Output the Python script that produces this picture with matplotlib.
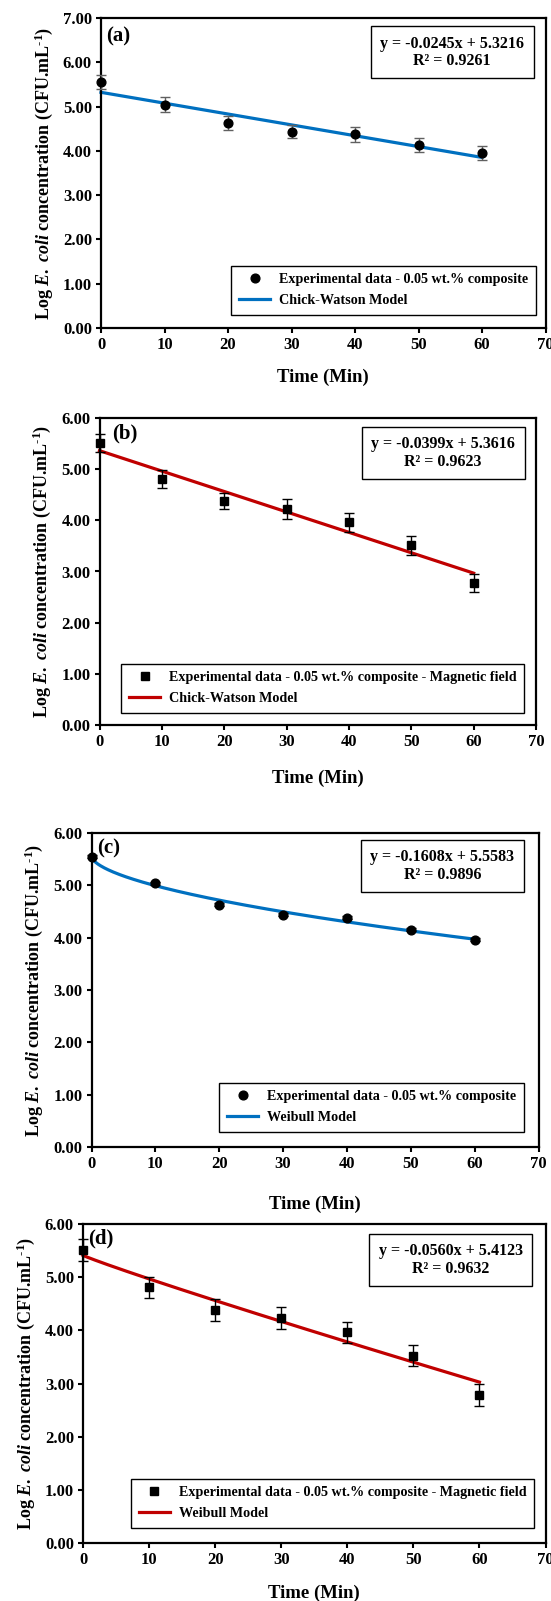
import numpy as np
import matplotlib
matplotlib.use("Agg")
import matplotlib.pyplot as plt
from matplotlib.lines import Line2D

plt.rcParams['font.family'] = ['Liberation Serif', 'DejaVu Serif']
plt.rcParams['font.weight'] = 'bold'
plt.rcParams['mathtext.fontset'] = 'custom'
plt.rcParams['mathtext.rm'] = 'Liberation Serif:bold'
plt.rcParams['mathtext.it'] = 'Liberation Serif:bold:italic'
plt.rcParams['mathtext.bf'] = 'Liberation Serif:bold'

# ---------------- data ----------------
time_min = [0, 10, 20, 30, 40, 50, 60]

# (a) 0.05 wt.% composite, Chick-Watson
a_log = [5.56, 5.04, 4.63, 4.43, 4.37, 4.14, 3.95]
a_err = [0.16, 0.17, 0.16, 0.15, 0.16, 0.16, 0.16]
a_slope, a_icpt = -0.0245, 5.3216

# (b) composite + magnetic field, Chick-Watson
b_log = [5.51, 4.81, 4.38, 4.22, 3.96, 3.51, 2.78]
b_err = [0.18, 0.18, 0.16, 0.19, 0.18, 0.19, 0.18]
b_slope, b_icpt = -0.0399, 5.3616

# (c) composite, Weibull
c_log = [5.55, 5.04, 4.63, 4.44, 4.38, 4.15, 3.96]
c_err = [0.03, 0.03, 0.03, 0.03, 0.03, 0.03, 0.03]
c_weib = dict(a=5.555, b=0.148, p=0.579)   # log N = a - b * t^p

# (d) composite + magnetic field, Weibull
d_log = [5.51, 4.81, 4.38, 4.23, 3.96, 3.52, 2.78]
d_err = [0.20, 0.20, 0.20, 0.21, 0.20, 0.20, 0.21]
d_weib = dict(a=5.41, b=0.0508, p=0.94)

eq_texts = ["y = -0.0245x + 5.3216\nR\u00b2 = 0.9261",
            "y = -0.0399x + 5.3616\nR\u00b2 = 0.9623",
            "y = -0.1608x + 5.5583\nR\u00b2 = 0.9896",
            "y = -0.0560x + 5.4123\nR\u00b2 = 0.9632"]
exp_labels = ["Experimental data - 0.05 wt.% composite",
              "Experimental data - 0.05 wt.% composite - Magnetic field",
              "Experimental data - 0.05 wt.% composite",
              "Experimental data - 0.05 wt.% composite - Magnetic field"]
model_labels = ["Chick-Watson Model", "Chick-Watson Model", "Weibull Model", "Weibull Model"]
panel_tags = ["(a)", "(b)", "(c)", "(d)"]
y_label = r"Log $\mathit{E.}$ $\mathit{coli}$ concentration (CFU.mL$^{\text{-1}}$)"

BLUE = "#0070C0"
RED = "#C00000"

W, H = 551, 1601
fig = plt.figure(figsize=(W / 100, H / 100), dpi=100)

def rect(left, right, top, bottom):
    return [left / W, 1 - bottom / H, (right - left) / W, (bottom - top) / H]

axes_px = [(101, 545.5, 18, 328), (99.5, 536, 418, 725), (91.5, 538.5, 833, 1147), (83, 545.5, 1224, 1543)]
ymaxes = [7, 6, 6, 6]
markers = ['o', 's', 'o', 's']
colors = [BLUE, RED, BLUE, RED]
ecolors = ['#606060', 'black', 'black', 'black']
datasets = [(a_log, a_err), (b_log, b_err), (c_log, c_err), (d_log, d_err)]
eq_pos = [(0.79, 0.89), (0.787, 0.886), (0.785, 0.895), (0.795, 0.887)]
leg_anchor = [(0.978, 0.042), (0.973, 0.039), (0.967, 0.048), (0.975, 0.047)]
tag_pos = [(0.012, 0.94), (0.029, 0.951), (0.012, 0.952), (0.011, 0.956)]
xlabel_pads = [11.5, 14, 17, 12.0]

t_fit = np.linspace(0, 60, 301)
fits = [a_slope * t_fit + a_icpt,
        b_slope * t_fit + b_icpt,
        c_weib['a'] - c_weib['b'] * t_fit ** c_weib['p'],
        d_weib['a'] - d_weib['b'] * t_fit ** d_weib['p']]

for i in range(4):
    ax = fig.add_axes(rect(*axes_px[i]))
    yv, ye = datasets[i]
    ax.plot(t_fit, fits[i], color=colors[i], lw=2.3, zorder=2, clip_on=False)
    ax.errorbar(time_min, yv, yerr=ye, fmt=markers[i], color='black', ms=6.3,
                ecolor=ecolors[i], elinewidth=1.0, capsize=3.5, capthick=1.0,
                zorder=3, clip_on=False)
    ax.set_xlim(0, 70)
    ax.set_ylim(0, ymaxes[i])
    ax.set_xticks(range(0, 71, 10))
    yt = np.arange(0, ymaxes[i] + 0.01, 1.0)
    ax.set_yticks(yt)
    ax.set_yticklabels([f"{v:.2f}" for v in yt])
    ax.tick_params(axis='both', direction='out', length=3.5, width=1.5, labelsize=12, pad=3)
    for lab in ax.get_xticklabels() + ax.get_yticklabels():
        lab.set_fontweight('bold')
    for s in ax.spines.values():
        s.set_linewidth(1.6)
        s.set_color('black')
    ax.set_xlabel("Time (Min)", fontsize=13.5, fontweight='bold', labelpad=xlabel_pads[i])
    ax.set_ylabel(y_label, fontsize=13, fontweight='bold', labelpad=6)
    ax.text(tag_pos[i][0], tag_pos[i][1], panel_tags[i], transform=ax.transAxes,
            fontsize=15, fontweight='bold', ha='left', va='center')
    ax.text(eq_pos[i][0], eq_pos[i][1], eq_texts[i], transform=ax.transAxes,
            fontsize=11.5, fontweight='bold', ha='center', va='center', linespacing=1.1,
            bbox=dict(boxstyle='square,pad=0.6', fc='white', ec='black', lw=1.0))
    handles = [Line2D([], [], marker=markers[i], color='black', ls='none', ms=6.3),
               Line2D([], [], color=colors[i], lw=2.3)]
    leg = ax.legend(handles, [exp_labels[i], model_labels[i]], loc='lower right',
                    bbox_to_anchor=leg_anchor[i], borderaxespad=0, fancybox=False,
                    edgecolor='black', framealpha=1, prop={'weight': 'bold', 'size': 10.2},
                    handlelength=2.2, handletextpad=0.6, labelspacing=0.55, borderpad=0.55)
    leg.get_frame().set_linewidth(1.0)

fig.savefig("out.png", dpi=100)
